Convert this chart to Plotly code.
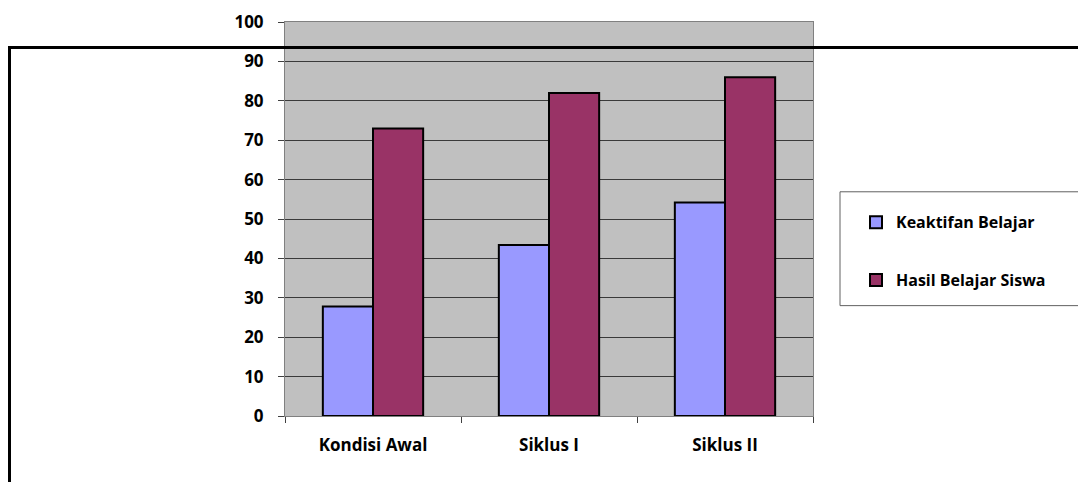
import plotly.graph_objects as go

categories = ["Kondisi Awal", "Siklus I", "Siklus II"]
keaktifan = [27.8, 43.4, 54.2]
hasil = [73, 82, 86]
series_names = ["Keaktifan Belajar", "Hasil Belajar Siswa"]
y_ticks = [0, 10, 20, 30, 40, 50, 60, 70, 80, 90, 100]

# page has an 8px body margin, so figure coords = reference coords - 8
OFF = 8
W, H = 1086 - OFF, 482 - OFF
REF_L, REF_R, REF_T, REF_B = 285, 813, 21.5, 416
L = REF_L - OFF
T = REF_T - OFF
R = W - (REF_R - OFF)
B = H - (REF_B - OFF)
pw, ph = REF_R - REF_L, REF_B - REF_T

def px(x):
    return (x - REF_L) / pw

def py(y):
    return (REF_B - y) / ph

font_family = "'Open Sans', Lato, sans-serif"
tfont = dict(family=font_family, size=17, color="black", weight="bold")
lfont = dict(family=font_family, size=16, color="black", weight="bold")

fig = go.Figure()
fig.add_trace(go.Bar(x=categories, y=keaktifan, name=series_names[0],
                     marker=dict(color="#9999FF", line=dict(color="black", width=2)),
                     legendgroup="a"))
fig.add_trace(go.Bar(x=categories, y=hasil, name=series_names[1],
                     marker=dict(color="#993366", line=dict(color="black", width=2)),
                     legendgroup="b"))

fig.update_layout(
    template="none",
    width=W, height=H,
    margin=dict(l=L, r=R, t=T, b=B, pad=0, autoexpand=False),
    paper_bgcolor="white",
    plot_bgcolor="#C0C0C0",
    barmode="group",
    bargap=0.43,
    bargroupgap=0,
    font=tfont,
    showlegend=True,
    legend=dict(
        x=px(856), y=py(205), xanchor="left", yanchor="top",
        bgcolor="rgba(0,0,0,0)", borderwidth=0,
        font=lfont,
        tracegroupgap=34, itemwidth=30,
    ),
    xaxis=dict(
        type="category", automargin=False,
        showline=True, linecolor="#808080", linewidth=1, mirror=True,
        ticks="outside", ticklen=6, tickcolor="#404040",
        tickson="boundaries", showgrid=False,
        tickfont=tfont,
        ticklabelstandoff=14,
    ),
    yaxis=dict(
        range=[0, 100], tickvals=y_ticks, automargin=False,
        showline=True, linecolor="#808080", linewidth=1, mirror=True,
        ticks="outside", ticklen=6, tickcolor="#404040",
        showgrid=True, gridcolor="#3a3a3a", gridwidth=1,
        zeroline=False,
        tickfont=tfont,
        ticklabelstandoff=11,
    ),
    shapes=[
        # legend box
        dict(type="rect", xref="paper", yref="paper",
             x0=px(840), x1=px(1083), y0=py(191.5), y1=py(305.5),
             line=dict(color="#606060", width=1), fillcolor="white", layer="below"),
        # black frame lines overlapping the chart
        dict(type="line", xref="paper", yref="paper",
             x0=px(8), x1=px(1090), y0=py(47), y1=py(47),
             line=dict(color="black", width=3), layer="above"),
        dict(type="line", xref="paper", yref="paper",
             x0=px(9.5), x1=px(9.5), y0=py(46), y1=py(490),
             line=dict(color="black", width=3), layer="above"),
    ],
)

fig.write_html("out.html")
